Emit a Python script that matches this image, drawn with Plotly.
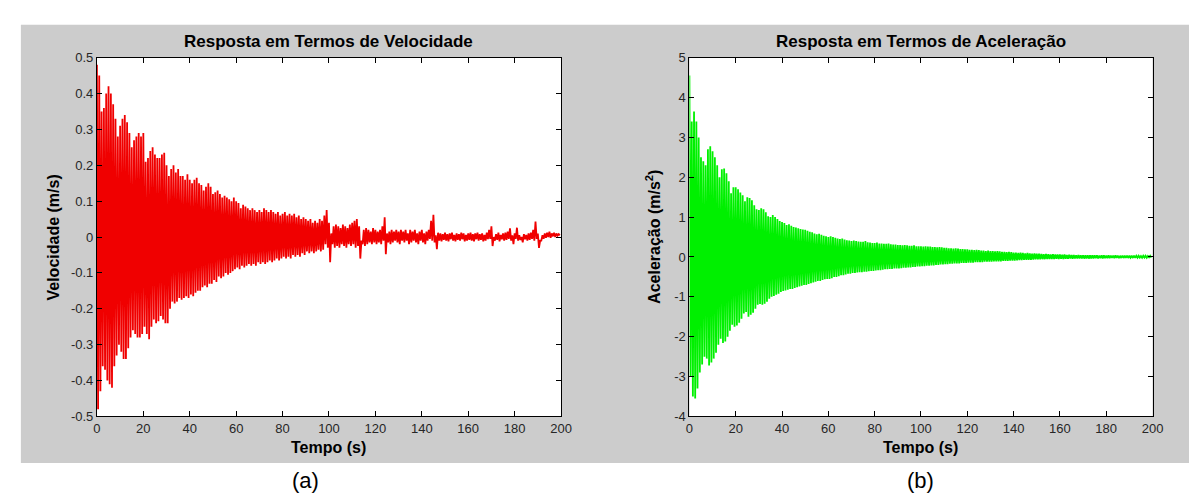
import plotly.graph_objects as go

# ---------------- data ----------------
# Velocity: positive peaks at t = 0,1,...,199 s ; negative peaks at t = 0.5,...,199.5 s
vel_peaks = [
    0.48, 0.45, 0.35, 0.36, 0.40, 0.42, 0.40, 0.37, 0.33, 0.28,
    0.31, 0.33, 0.34, 0.32, 0.29, 0.25, 0.27, 0.28, 0.29, 0.28,
    0.29, 0.21, 0.22, 0.24, 0.25, 0.23, 0.22, 0.22, 0.23, 0.235,
    0.20, 0.17, 0.19, 0.20, 0.18, 0.19, 0.17, 0.17, 0.16, 0.175,
    0.16, 0.15, 0.16, 0.165, 0.15, 0.145, 0.13, 0.14, 0.15, 0.14,
    0.12, 0.125, 0.13, 0.12, 0.11, 0.115, 0.11, 0.105, 0.10, 0.11,
    0.10, 0.095, 0.08, 0.09, 0.085, 0.08, 0.075, 0.08, 0.075, 0.07,
    0.075, 0.07, 0.08, 0.075, 0.07, 0.075, 0.07, 0.065, 0.07, 0.06,
    0.065, 0.07, 0.06, 0.065, 0.06, 0.065, 0.055, 0.06, 0.05, 0.055,
    0.05, 0.045, 0.05, 0.04, 0.045, 0.04, 0.05, 0.045, 0.06, 0.075,
    0.04, 0.01, 0.03, 0.035, 0.03, 0.025, 0.035, 0.03, 0.025, 0.035,
    0.04, 0.045, 0.05, 0.03, -0.01, 0.02, 0.025, 0.02, 0.015, 0.025,
    0.02, 0.015, 0.02, 0.03, 0.055, 0.01, 0.015, 0.02, 0.015, 0.02,
    0.015, 0.02, 0.015, 0.02, 0.01, 0.02, 0.015, 0.02, 0.01, 0.015,
    0.02, 0.01, 0.015, 0.02, 0.045, 0.062, 0.005, 0.012, 0.01, 0.008,
    0.012, 0.008, 0.01, 0.012, 0.006, 0.01, 0.008, 0.012, 0.01, 0.006,
    0.01, 0.012, 0.008, 0.01, 0.012, 0.008, 0.01, 0.006, 0.012, 0.02,
    0.03, 0.0, 0.008, 0.012, 0.006, 0.01, 0.012, 0.015, 0.024, 0.005,
    0.01, 0.026, 0.005, 0.0, 0.008, 0.006, 0.01, 0.012, 0.02, 0.043,
    0.01, -0.01, 0.005, 0.01, 0.012, 0.015, 0.01, 0.012, 0.01, 0.008,
]
vel_troughs = [
    -0.48, -0.43, -0.36, -0.37, -0.40, -0.41, -0.42, -0.36, -0.33, -0.30,
    -0.32, -0.34, -0.34, -0.31, -0.28, -0.26, -0.27, -0.28, -0.28, -0.27,
    -0.25, -0.27, -0.285, -0.25, -0.23, -0.24, -0.235, -0.22, -0.23, -0.24,
    -0.24, -0.20, -0.18, -0.185, -0.18, -0.17, -0.175, -0.17, -0.165, -0.17,
    -0.16, -0.165, -0.155, -0.15, -0.15, -0.14, -0.135, -0.14, -0.13, -0.13,
    -0.12, -0.125, -0.11, -0.115, -0.11, -0.10, -0.105, -0.10, -0.095, -0.09,
    -0.085, -0.09, -0.08, -0.085, -0.08, -0.075, -0.08, -0.075, -0.08, -0.07,
    -0.075, -0.07, -0.075, -0.07, -0.065, -0.07, -0.065, -0.06, -0.065, -0.06,
    -0.055, -0.06, -0.055, -0.06, -0.05, -0.055, -0.05, -0.055, -0.045, -0.05,
    -0.04, -0.045, -0.04, -0.045, -0.04, -0.035, -0.04, -0.035, -0.02, -0.03,
    -0.07, -0.02, -0.03, -0.025, -0.03, -0.02, -0.025, -0.03, -0.02, -0.025,
    -0.02, -0.03, -0.025, -0.06, -0.02, -0.025, -0.02, -0.015, -0.02, -0.015,
    -0.02, -0.015, -0.02, -0.01, -0.048, -0.015, -0.02, -0.015, -0.01, -0.015,
    -0.02, -0.01, -0.015, -0.01, -0.02, -0.015, -0.01, -0.015, -0.02, -0.01,
    -0.015, -0.02, -0.01, -0.005, -0.01, -0.015, -0.034, -0.01, -0.012, -0.008,
    -0.01, -0.012, -0.006, -0.01, -0.012, -0.008, -0.01, -0.006, -0.012, -0.01,
    -0.008, -0.01, -0.012, -0.006, -0.01, -0.008, -0.012, -0.01, -0.006, -0.005,
    -0.025, -0.01, -0.008, -0.012, -0.006, -0.01, -0.008, -0.005, -0.01, -0.02,
    -0.005, -0.01, -0.008, -0.015, -0.006, -0.01, -0.008, -0.005, -0.01, -0.005,
    -0.03, -0.01, -0.005, -0.002, 0.0, -0.002, 0.002, 0.0, 0.004, 0.005,
]

# Acceleration: positive peaks at t = 0,...,199 s ; negative peaks at t = 0.5,...,199.5 s
acc_peaks = [
    4.55, 3.40, 3.65, 3.40, 3.00, 2.50, 2.40, 2.30, 2.70, 2.78,
    2.65, 2.50, 2.30, 2.00, 2.20, 2.22, 2.10, 1.90, 1.60, 1.75,
    1.75, 1.70, 1.62, 1.55, 1.40, 1.50, 1.48, 1.42, 1.30, 1.20,
    1.18, 1.22, 1.20, 1.12, 1.02, 1.00, 1.05, 1.00, 0.95, 0.90,
    0.88, 0.85, 0.80, 0.82, 0.78, 0.75, 0.74, 0.72, 0.70, 0.69,
    0.68, 0.66, 0.63, 0.62, 0.59, 0.57, 0.58, 0.56, 0.53, 0.52,
    0.50, 0.52, 0.50, 0.48, 0.46, 0.45, 0.46, 0.44, 0.42, 0.41,
    0.40, 0.41, 0.40, 0.39, 0.38, 0.38, 0.40, 0.37, 0.36, 0.35,
    0.35, 0.36, 0.34, 0.34, 0.33, 0.33, 0.34, 0.32, 0.31, 0.31,
    0.30, 0.30, 0.29, 0.30, 0.29, 0.28, 0.28, 0.29, 0.27, 0.27,
    0.27, 0.26, 0.27, 0.26, 0.26, 0.25, 0.25, 0.24, 0.25, 0.24,
    0.23, 0.23, 0.22, 0.22, 0.21, 0.22, 0.21, 0.20, 0.20, 0.19,
    0.19, 0.18, 0.18, 0.17, 0.18, 0.17, 0.16, 0.16, 0.15, 0.16,
    0.15, 0.15, 0.14, 0.15, 0.14, 0.13, 0.13, 0.12, 0.13, 0.12,
    0.11, 0.11, 0.10, 0.11, 0.10, 0.09, 0.10, 0.09, 0.08, 0.09,
    0.08, 0.08, 0.075, 0.07, 0.075, 0.07, 0.065, 0.07, 0.06, 0.065,
    0.06, 0.055, 0.06, 0.05, 0.055, 0.05, 0.05, 0.045, 0.05, 0.045,
    0.045, 0.04, 0.045, 0.04, 0.045, 0.04, 0.04, 0.035, 0.04, 0.04,
    0.035, 0.04, 0.035, 0.035, 0.04, 0.035, 0.03, 0.035, 0.03, 0.035,
    0.03, 0.03, 0.035, 0.03, 0.03, 0.025, 0.03, 0.03, 0.025, 0.03,
]
acc_troughs = [
    -3.00, -3.50, -3.55, -3.30, -2.90, -2.70, -2.50, -2.55, -2.72, -2.65,
    -2.55, -2.40, -2.20, -2.05, -2.16, -2.12, -2.00, -1.85, -1.70, -1.75,
    -1.72, -1.65, -1.55, -1.42, -1.38, -1.50, -1.45, -1.40, -1.30, -1.20,
    -1.18, -1.20, -1.17, -1.12, -1.05, -1.00, -0.98, -0.95, -0.92, -0.88,
    -0.85, -0.84, -0.82, -0.80, -0.80, -0.78, -0.76, -0.74, -0.72, -0.70,
    -0.70, -0.68, -0.66, -0.64, -0.62, -0.60, -0.60, -0.58, -0.56, -0.55,
    -0.55, -0.53, -0.50, -0.50, -0.48, -0.46, -0.46, -0.44, -0.42, -0.42,
    -0.40, -0.40, -0.39, -0.38, -0.38, -0.37, -0.37, -0.36, -0.35, -0.35,
    -0.34, -0.33, -0.33, -0.32, -0.31, -0.31, -0.30, -0.30, -0.29, -0.29,
    -0.29, -0.28, -0.27, -0.27, -0.26, -0.26, -0.25, -0.25, -0.24, -0.24,
    -0.23, -0.23, -0.22, -0.22, -0.21, -0.21, -0.20, -0.20, -0.19, -0.19,
    -0.18, -0.18, -0.17, -0.17, -0.16, -0.16, -0.16, -0.15, -0.15, -0.15,
    -0.14, -0.14, -0.14, -0.13, -0.13, -0.13, -0.13, -0.12, -0.12, -0.12,
    -0.12, -0.11, -0.11, -0.11, -0.11, -0.10, -0.10, -0.10, -0.09, -0.09,
    -0.09, -0.085, -0.08, -0.08, -0.075, -0.075, -0.07, -0.07, -0.065, -0.06,
    -0.06, -0.06, -0.055, -0.055, -0.05, -0.05, -0.05, -0.05, -0.045, -0.05,
    -0.045, -0.05, -0.045, -0.045, -0.04, -0.045, -0.04, -0.04, -0.04, -0.035,
    -0.04, -0.035, -0.04, -0.035, -0.035, -0.03, -0.035, -0.03, -0.035, -0.03,
    -0.03, -0.03, -0.025, -0.03, -0.025, -0.03, -0.025, -0.025, -0.02, -0.025,
    -0.02, -0.025, -0.02, -0.02, -0.015, -0.02, -0.015, -0.02, -0.01, -0.015,
]

x_ticks = [0, 20, 40, 60, 80, 100, 120, 140, 160, 180, 200]
vel_ticks = [-0.5, -0.4, -0.3, -0.2, -0.1, 0, 0.1, 0.2, 0.3, 0.4, 0.5]
vel_tick_text = ["-0.5", "-0.4", "-0.3", "-0.2", "-0.1", "0", "0.1", "0.2", "0.3", "0.4", "0.5"]
acc_ticks = [-4, -3, -2, -1, 0, 1, 2, 3, 4, 5]
acc_tick_text = ["-4", "-3", "-2", "-1", "0", "1", "2", "3", "4", "5"]

title_vel = "Resposta em Termos de Velocidade"
title_acc = "Resposta em Termos de Aceleração"
xlabel = "Tempo (s)"
ylabel_vel = "Velocidade (m/s)"
ylabel_acc = "Aceleração (m/s<sup>2</sup>)"


def interleave(peaks, troughs):
    ts, ys = [], []
    for i, (p, q) in enumerate(zip(peaks, troughs)):
        ts += [i, i + 0.5]
        ys += [p, q]
    return ts, ys


vel_t, vel_y = interleave(vel_peaks, vel_troughs)
acc_t, acc_y = interleave(acc_peaks, acc_troughs)

# ---------------- layout geometry (pixels) ----------------
W, H = 1197, 494


def px(x):
    return x / W


def py(y):
    return 1 - y / H


L1, R1 = 86, 556
L2, R2 = 686, 1155
TOP, BOT = 44, 414
FONT = "Arial, Liberation Sans, sans-serif"

fig = go.Figure()
fig.add_trace(go.Scatter(x=vel_t, y=vel_y, mode="lines",
                         line=dict(color="#f00000", width=1.8),
                         xaxis="x", yaxis="y", showlegend=False))
fig.add_trace(go.Scatter(x=acc_t, y=acc_y, mode="lines",
                         line=dict(color="#00f000", width=1.8),
                         xaxis="x2", yaxis="y2", showlegend=False))

axis_common = dict(showline=True, linecolor="black", linewidth=1, mirror="ticks",
                   ticks="inside", ticklen=5, tickcolor="black", showgrid=False,
                   zeroline=False, fixedrange=True,
                   tickfont=dict(family=FONT, size=13, color="#262626"))

fig.update_layout(
    width=W, height=H, autosize=False,
    margin=dict(l=0, r=0, t=0, b=0),
    paper_bgcolor="white", plot_bgcolor="white",
    xaxis=dict(domain=[px(L1), px(R1)], range=[0, 200], tickvals=x_ticks,
               anchor="y", **axis_common),
    yaxis=dict(domain=[py(BOT), py(TOP)], range=[-0.5, 0.5], tickvals=vel_ticks,
               ticktext=vel_tick_text, anchor="x", **axis_common),
    xaxis2=dict(domain=[px(L2), px(R2)], range=[0, 200], tickvals=x_ticks,
                anchor="y2", **axis_common),
    yaxis2=dict(domain=[py(BOT), py(TOP)], range=[-4, 5], tickvals=acc_ticks,
                ticktext=acc_tick_text, anchor="x2", **axis_common),
    shapes=[
        dict(type="rect", xref="paper", yref="paper", x0=px(9), x1=px(1193),
             y0=py(462), y1=py(10), fillcolor="#cccccc", line=dict(width=0), layer="below"),
        dict(type="rect", xref="paper", yref="paper", x0=px(L1), x1=px(R1),
             y0=py(BOT), y1=py(TOP), fillcolor="white", line=dict(width=0), layer="below"),
        dict(type="rect", xref="paper", yref="paper", x0=px(L2), x1=px(R2),
             y0=py(BOT), y1=py(TOP), fillcolor="white", line=dict(width=0), layer="below"),
    ],
)

font_b = dict(family=FONT, color="black")
ann = []
for cx, title in [((L1 + R1) / 2, title_vel), ((L2 + R2) / 2, title_acc)]:
    ann.append(dict(x=px(cx), y=py(27), xref="paper", yref="paper", text="<b>" + title + "</b>",
                    showarrow=False, xanchor="center", yanchor="middle",
                    font=dict(size=17, **font_b)))
    ann.append(dict(x=px(cx), y=py(446), xref="paper", yref="paper", text="<b>" + xlabel + "</b>",
                    showarrow=False, xanchor="center", yanchor="middle",
                    font=dict(size=16, **font_b)))
ann.append(dict(x=px(42), y=py(229), xref="paper", yref="paper", text="<b>" + ylabel_vel + "</b>",
                showarrow=False, xanchor="center", yanchor="middle", textangle=-90,
                font=dict(size=16, **font_b)))
ann.append(dict(x=px(649), y=py(229), xref="paper", yref="paper", text="<b>" + ylabel_acc + "</b>",
                showarrow=False, xanchor="center", yanchor="middle", textangle=-90,
                font=dict(size=16, **font_b)))
ann.append(dict(x=px(297), y=py(480), xref="paper", yref="paper", text="(a)",
                showarrow=False, xanchor="center", yanchor="middle",
                font=dict(size=22, family=FONT, color="black")))
ann.append(dict(x=px(920), y=py(480), xref="paper", yref="paper", text="(b)",
                showarrow=False, xanchor="center", yanchor="middle",
                font=dict(size=22, family=FONT, color="black")))
fig.update_layout(annotations=ann)

fig.write_html("out.html")
